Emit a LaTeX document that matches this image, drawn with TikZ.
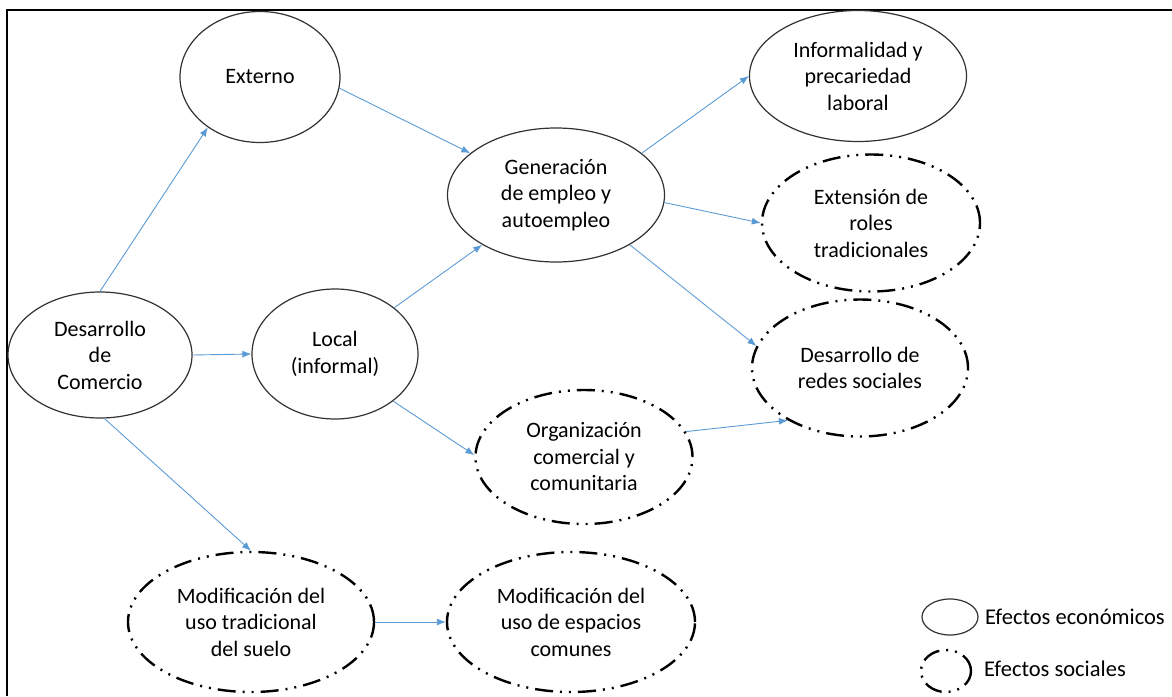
\documentclass[tikz,border=0pt]{standalone}
\usepackage{fontspec}
\setmainfont{Carlito}
\usetikzlibrary{shapes.geometric,arrows.meta}
\definecolor{arrowblue}{RGB}{91,155,213}
\definecolor{econline}{RGB}{50,50,50}
\tikzset{
  eco/.style={ellipse, draw=econline, line width=1.2pt, inner sep=0pt, align=center,
    font=\fontsize{22}{26.5}\selectfont},
  soc/.style={ellipse, draw=black, line width=2.4pt, inner sep=0pt, align=center,
    dash pattern=on 18pt off 7pt on 2pt off 7pt on 2pt off 7pt,
    font=\fontsize{22}{26.5}\selectfont},
  conn/.style={draw=arrowblue, line width=0.9pt, -{Latex[length=9pt,width=7pt]}},
  legtext/.style={anchor=west, inner sep=0pt, font=\fontsize{22.5}{26}\selectfont}
}
\begin{document}
\begin{tikzpicture}[x=1pt,y=-1pt]
\useasboundingbox (0,0) rectangle (1172,696);
\draw[line width=1.5pt] (7,696) -- (7,10) -- (1172,10);

\node[eco, minimum width=184pt, minimum height=126pt] (des) at (100,355) {Desarrollo\\de\\Comercio};
\node[eco, minimum width=160pt, minimum height=131pt] (ext) at (260,77) {Externo};
\node[eco, minimum width=166pt, minimum height=130pt] (loc) at (335,354) {Local\\(informal)};
\node[eco, minimum width=217pt, minimum height=134pt] (gen) at (556,195) {Generación\\de empleo y\\autoempleo};
\node[eco, minimum width=217pt, minimum height=131pt] (inf) at (858,76) {Informalidad y\\precariedad\\laboral};
\node[soc, minimum width=218pt, minimum height=137pt] (rol) at (871,223) {Extensión de\\roles\\tradicionales};
\node[soc, minimum width=216pt, minimum height=137pt] (red) at (860,368) {Desarrollo de\\redes sociales};
\node[soc, minimum width=217pt, minimum height=134pt] (org) at (584,457) {Organización\\comercial y\\comunitaria};
\node[soc, minimum width=246pt, minimum height=140pt] (mt) at (251,622) {Modificación del\\uso tradicional\\del suelo};
\node[soc, minimum width=248pt, minimum height=140pt] (me) at (571,622) {Modificación del\\uso de espacios\\comunes};

\node[eco, minimum width=56pt, minimum height=36pt] (le) at (950,617) {};
\node[legtext] (lte) at (985,617) {Efectos económicos};
\node[soc, minimum width=50pt, minimum height=42pt] (ls) at (946,671) {};
\node[legtext] (lts) at (984,669) {Efectos sociales};

\draw[conn] (des.90) -- (ext.224);
\draw[conn] (des.0) -- (loc.180);
\draw[conn] (des.-86) -- (mt.90);
\draw[conn] (ext.-8) -- (gen.154);
\draw[conn] (loc.38) -- (gen.214);
\draw[conn] (loc.-39) -- (org.179);
\draw[conn] (gen.26) -- (inf.180);
\draw[conn] (gen.-4) -- (rol.180);
\draw[conn] (gen.-34) -- (red.168);
\draw[conn] (org.14) -- (red.216);
\draw[conn] (mt.0) -- (me.180);
\end{tikzpicture}
\end{document}
